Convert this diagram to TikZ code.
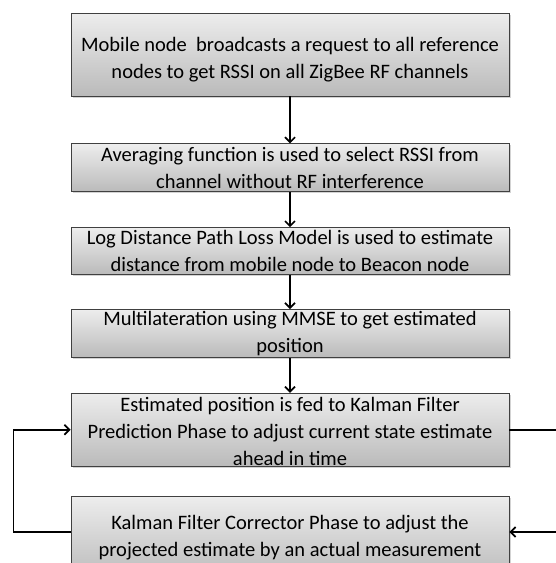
\documentclass[tikz,border=0pt]{standalone}
\usepackage{fontspec}
\setmainfont{Carlito}
\usepackage{tikz}
\usetikzlibrary{shadows}
\usetikzlibrary{positioning}
\usetikzlibrary{arrows.meta}

\begin{document}
\begin{tikzpicture}[x=1pt, y=1pt,
        stepbox/.style={rectangle, draw=black!75, line width=0.8pt, top color=black!7, bottom color=black!27, drop shadow={shadow xshift=1.5pt, shadow yshift=-1.5pt, opacity=0.35}, minimum width=438pt, inner sep=0pt, align=center, font=\fontsize{20.5}{27}\selectfont},
        flow/.style={-{Straight Barb[length=5pt, width=10pt]}, line width=1.7pt}
      ]
        \clip (0,0) rectangle (556,-563);
        \node[stepbox, minimum height=83pt]  (mob)   at (290,-54.5)         {\rule{0pt}{25pt}Mobile node\ \ broadcasts a request to all reference\\nodes to get RSSI on all ZigBee RF channels};
        \node[stepbox, minimum height=48pt]  (avg)   [below=47pt of mob]    {Averaging function is used to select RSSI from\\channel without RF interference};
        \node[stepbox, minimum height=47pt]  (logd)  [below=35pt of avg]    {Log Distance Path Loss Model is used to estimate\\distance from mobile node to Beacon node};
        \node[stepbox, minimum height=48pt]  (mlat)  [below=34pt of logd]   {Multilateration using MMSE to get estimated\\position};
        \node[stepbox, minimum height=73pt]  (pred)  [below=35pt of mlat]   {\rule{0pt}{17pt}Estimated position is fed to Kalman Filter\\Prediction Phase to adjust current state estimate\\ahead in time};
        \node[stepbox, minimum height=84pt]  (corr)  [below=29pt of pred]   {Kalman Filter Corrector Phase to adjust the\\projected estimate by an actual measurement};

        \draw[flow]  (mob) -- (avg);
        \draw[flow]  (avg) -- (logd);
        \draw[flow]  (logd) -- (mlat);
        \draw[flow]  (mlat) -- (pred);

        % feedback loop
        \draw[flow]  ([yshift=6pt]corr.west) -- ++(-57pt,0) |- (pred.west);
        \coordinate (outa) at ([xshift=47pt]pred.east);
        \coordinate (outb) at ([xshift=47pt,yshift=6pt]corr.east);
        \draw[line width=1.7pt]  (pred.east) -- (outa);
        \draw[flow]  (outb) -- ([yshift=6pt]corr.east);
      \end{tikzpicture}
\end{document}
